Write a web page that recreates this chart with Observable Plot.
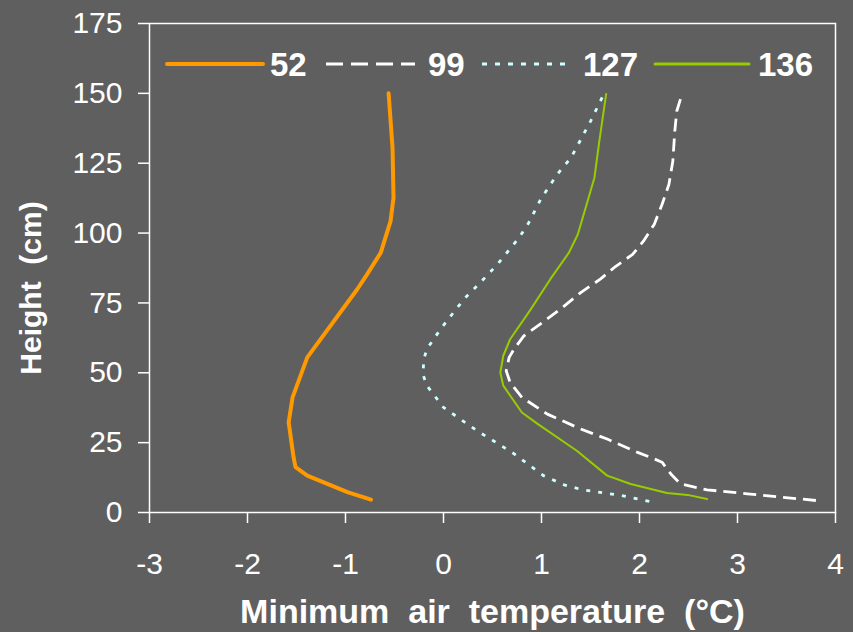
<!DOCTYPE html>
<html>
<head>
<meta charset="utf-8">
<script src="https://cdn.jsdelivr.net/npm/d3@7"></script>
<script src="https://cdn.jsdelivr.net/npm/@observablehq/plot@0.6"></script>
<style>
  html, body { margin: 0; padding: 0; background: #5f5f5f; }
  #wrap { position: relative; width: 853px; height: 632px; background: #5f5f5f; overflow: hidden; }
  #legend { position: absolute; left: 0; top: 0; pointer-events: none; }
  text { font-family: "Liberation Sans", Arial, sans-serif; }
</style>
</head>
<body>
<div id="wrap"></div>
<script>
// ---- Data ----
const seriesNames = ["52", "99", "127", "136"];

const heights52 = [4.6, 7.3, 13.2, 16.2, 19.8, 32.3, 41.2, 55.5, 79.9, 85.2, 93.0, 104.3, 112.6, 130.5, 150.0];
const temps52   = [-0.74, -0.98, -1.39, -1.51, -1.53, -1.58, -1.54, -1.39, -0.88, -0.78, -0.64, -0.54, -0.51, -0.52, -0.56];

const heights99 = [4.3, 6.7, 8.1, 10.2, 13.8, 18.0, 19.2, 21.5, 26.3, 29.9, 35.2, 41.2, 46.5, 50.7, 55.5, 58.5, 63.2, 68.0, 72.7, 78.7, 83.5, 87.6, 92.4, 97.1, 103.1, 110.2, 117.4, 125.7, 136.4, 143.6, 149.3];
const temps99   = [3.80, 3.10, 2.69, 2.42, 2.32, 2.23, 2.15, 1.98, 1.67, 1.40, 1.06, 0.80, 0.68, 0.64, 0.67, 0.72, 0.82, 1.01, 1.19, 1.40, 1.60, 1.74, 1.93, 2.04, 2.15, 2.23, 2.30, 2.34, 2.36, 2.38, 2.43];

const heights127 = [4.0, 6.1, 8.1, 9.9, 13.2, 21.5, 29.3, 37.6, 45.4, 49.5, 54.9, 58.5, 65.6, 73.3, 77.5, 81.7, 88.8, 98.3, 103.7, 112.0, 121.0, 126.9, 140.0, 148.6];
const temps127   = [2.10, 1.81, 1.42, 1.23, 1.02, 0.70, 0.34, 0.00, -0.17, -0.21, -0.20, -0.17, -0.03, 0.14, 0.24, 0.36, 0.55, 0.77, 0.87, 0.99, 1.16, 1.30, 1.50, 1.62];

const heights136 = [4.8, 6.3, 7.0, 10.2, 13.2, 22.1, 31.7, 35.8, 45.4, 50.1, 56.1, 62.0, 72.7, 83.5, 93.0, 99.5, 111.4, 119.8, 132.9, 149.8];
const temps136   = [2.69, 2.49, 2.28, 1.91, 1.67, 1.36, 0.96, 0.80, 0.61, 0.58, 0.61, 0.68, 0.89, 1.09, 1.28, 1.37, 1.47, 1.54, 1.59, 1.66];

const xTicks = [-3, -2, -1, 0, 1, 2, 3, 4];
const yTicks = [0, 25, 50, 75, 100, 125, 150, 175];
const titleX = "Minimum\u00a0 air\u00a0 temperature\u00a0 (°C)";
const titleY = "Height\u00a0 (cm)";

// ---- Styles ----
const styles = {
  "52":  {stroke: "#ff9900", strokeWidth: 4,   dash: null},
  "99":  {stroke: "#ffffff", strokeWidth: 2.8, dash: "13,7"},
  "127": {stroke: "#ccffff", strokeWidth: 2.8, dash: "4,8"},
  "136": {stroke: "#99cc00", strokeWidth: 2,   dash: null}
};

const build = (name, hs, ts) => hs.map((h, i) => ({series: name, height: h, temp: ts[i]}));
const data = {
  "52": build("52", heights52, temps52),
  "99": build("99", heights99, temps99),
  "127": build("127", heights127, temps127),
  "136": build("136", heights136, temps136)
};

const fmt = d => (d < 0 ? "-" + Math.abs(d) : String(d));

const lineMarks = seriesNames.map(name => Plot.line(data[name], {
  x: "temp", y: "height",
  stroke: styles[name].stroke,
  strokeWidth: styles[name].strokeWidth,
  strokeDasharray: styles[name].dash ?? undefined,
  strokeLinejoin: "round",
  strokeLinecap: styles[name].dash ? "butt" : "round"
}));

const chart = Plot.plot({
  width: 853,
  height: 632,
  marginLeft: 149,
  marginRight: 18,
  marginTop: 23,
  marginBottom: 120,
  style: {background: "transparent", color: "white", fontFamily: "'Liberation Sans', Arial, sans-serif", fontSize: "30px"},
  x: {domain: [-3, 4]},
  y: {domain: [0, 175]},
  marks: [
    Plot.frame({stroke: "white", strokeWidth: 1.5}),
    Plot.axisX({ticks: xTicks, tickFormat: fmt, tickSize: 11, tickPadding: 29, fontSize: 30, strokeWidth: 1.5, label: null}),
    Plot.axisY({ticks: yTicks, tickFormat: fmt, tickSize: 11, tickPadding: 16, fontSize: 30, strokeWidth: 1.5, label: null}),
    ...lineMarks,
    Plot.text([titleX], {text: d => d, frameAnchor: "bottom", dy: 100, textAnchor: "middle", lineAnchor: "middle", fontSize: 34, fontWeight: "bold", fill: "white"}),
    Plot.text([titleY], {text: d => d, frameAnchor: "left", dx: -118, dy: 20, rotate: -90, textAnchor: "middle", lineAnchor: "middle", fontSize: 30, fontWeight: "bold", fill: "white"})
  ]
});

const wrap = document.getElementById("wrap");
wrap.appendChild(chart);

// ---- Legend (overlay) ----
const legendItems = [
  {name: "52",  x1: 167, x2: 263, tx: 270},
  {name: "99",  x1: 326, x2: 415, tx: 428},
  {name: "127", x1: 482, x2: 568, tx: 583},
  {name: "136", x1: 655, x2: 749, tx: 758}
];
const lg = d3.select(wrap).append("svg")
  .attr("id", "legend").attr("width", 853).attr("height", 632);
legendItems.forEach(it => {
  const s = styles[it.name];
  lg.append("line")
    .attr("x1", it.x1).attr("x2", it.x2).attr("y1", 64).attr("y2", 64)
    .attr("stroke", s.stroke).attr("stroke-width", it.name === "52" ? 4 : 3)
    .attr("stroke-dasharray", it.name === "99" ? "17,8" : it.name === "127" ? "5,8" : null)
    .attr("stroke-linecap", s.dash ? "butt" : "round");
  lg.append("text")
    .attr("x", it.tx).attr("y", 76)
    .attr("fill", "white").attr("font-size", 33).attr("font-weight", "bold")
    .text(it.name);
});
</script>
</body>
</html>
